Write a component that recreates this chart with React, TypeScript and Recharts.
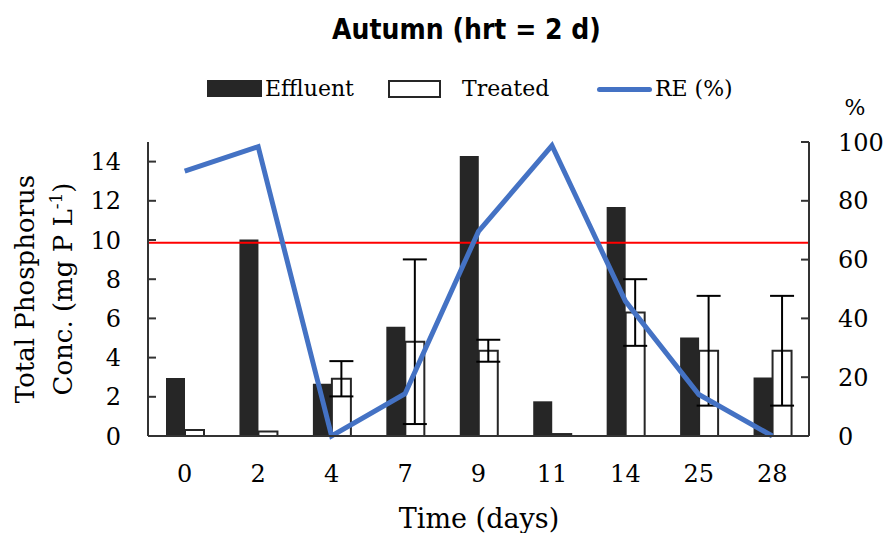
import React from 'react';
import { ComposedChart, Bar, Line, XAxis, YAxis, ReferenceLine, ErrorBar } from 'recharts';

const days = ['0', '2', '4', '7', '9', '11', '14', '25', '28'];
const effluent = [2.96, 10.03, 2.67, 5.57, 14.28, 1.77, 11.69, 5.03, 2.98];
const treated = [0.3, 0.23, 2.92, 4.81, 4.35, 0.1, 6.3, 4.35, 4.35];
const treatedErr = [0, 0, 0.9, 4.2, 0.56, 0, 1.7, 2.8, 2.8];
const removal = [90.1, 98.4, 0, 14.4, 69.6, 98.8, 45.9, 14.1, 0];
const threshold = 9.86;
const leftTicks = [0, 2, 4, 6, 8, 10, 12, 14];
const rightTicks = [0, 20, 40, 60, 80, 100];

const data = days.map((d, i) => ({
  day: d,
  effluent: effluent[i],
  treated: treated[i],
  treatedErr: treatedErr[i],
  re: removal[i],
}));

const SERIF = '"DejaVu Serif", serif';
const AXIS = '#333333';
const BAR = '#262626';
const BLUE = '#4472C4';

const YLabel = () => (
  <g transform="translate(34, 289) rotate(-90)">
    <text x={0} y={0} textAnchor="middle" fontFamily={SERIF} fontSize={26} fill="#000">
      Total Phosphorus
    </text>
    <text x={0} y={38} textAnchor="middle" fontFamily={SERIF} fontSize={26} fill="#000">
      Conc. (mg P L<tspan dy={-10} fontSize={17}>-1</tspan>
      <tspan dy={10}>)</tspan>
    </text>
  </g>
);

const XLabel = () => (
  <text x={479} y={528} textAnchor="middle" fontFamily={SERIF} fontSize={27} fill="#000">
    Time (days)
  </text>
);

const PctLabel = () => (
  <text x={855} y={115} textAnchor="middle" fontFamily={SERIF} fontSize={22} fill="#000">
    %
  </text>
);

export default function App() {
  return (
    <div style={{ position: 'absolute', left: 0, top: 0, width: 887, height: 533, background: '#fff' }}>
      <div
        style={{
          position: 'absolute',
          left: 0,
          width: 933,
          top: 10,
          textAlign: 'center',
          fontFamily: '"DejaVu Sans Condensed", "DejaVu Sans", sans-serif',
          fontWeight: 'bold',
          fontSize: 28,
          lineHeight: '40px',
          color: '#000',
        }}
      >
        Autumn (hrt = 2 d)
      </div>
      <div style={{ position: 'absolute', left: 0, top: 72, width: 887, height: 34, fontFamily: SERIF, fontSize: 22, color: '#000' }}>
        <div style={{ position: 'absolute', left: 207, top: 8, width: 55, height: 17, background: BAR }} />
        <span style={{ position: 'absolute', left: 265, top: 2, lineHeight: '30px' }}>Effluent</span>
        <div style={{ position: 'absolute', left: 388, top: 8, width: 49, height: 14, background: '#fff', border: `2px solid ${BAR}` }} />
        <span style={{ position: 'absolute', left: 462, top: 2, lineHeight: '30px' }}>Treated</span>
        <div style={{ position: 'absolute', left: 597, top: 15, width: 55, height: 5, background: BLUE, borderRadius: 3 }} />
        <span style={{ position: 'absolute', left: 655, top: 2, lineHeight: '30px' }}>RE (%)</span>
      </div>
      <div style={{ position: 'absolute', left: 0, top: 0 }}>
        <ComposedChart
          width={887}
          height={533}
          data={data}
          margin={{ top: 142, right: 0, bottom: 0, left: 0 }}
          barGap={0}
          barSize={19}
        >
          <XAxis
            dataKey="day"
            height={97}
            tickLine={false}
            axisLine={{ stroke: AXIS, strokeWidth: 2 }}
            tick={{ fill: '#000', fontSize: 24, fontFamily: SERIF }}
            tickMargin={23}
            label={<XLabel />}
          />
          <YAxis
            yAxisId="left"
            width={148}
            domain={[0, 15]}
            ticks={leftTicks}
            interval={0}
            tickSize={-8}
            tickMargin={35}
            tickLine={{ stroke: AXIS, strokeWidth: 2 }}
            axisLine={{ stroke: AXIS, strokeWidth: 2 }}
            tick={{ fill: '#000', fontSize: 24, fontFamily: SERIF }}
            label={<YLabel />}
          />
          <YAxis
            yAxisId="right"
            orientation="right"
            width={78}
            domain={[0, 100]}
            ticks={rightTicks}
            interval={0}
            tickSize={-8}
            tickMargin={37}
            tickLine={{ stroke: AXIS, strokeWidth: 2 }}
            axisLine={{ stroke: AXIS, strokeWidth: 2 }}
            tick={{ fill: '#000', fontSize: 24, fontFamily: SERIF }}
            label={<PctLabel />}
          />
          <Bar yAxisId="left" dataKey="effluent" fill={BAR} isAnimationActive={false} />
          <Bar yAxisId="left" dataKey="treated" fill="#fff" stroke={BAR} strokeWidth={2} isAnimationActive={false}>
            <ErrorBar dataKey="treatedErr" width={12} stroke="#000" strokeWidth={2} direction="y" isAnimationActive={false} />
          </Bar>
          <ReferenceLine yAxisId="left" y={threshold} stroke="#FF0000" strokeWidth={2} />
          <Line
            yAxisId="right"
            dataKey="re"
            stroke={BLUE}
            strokeWidth={5}
            dot={false}
            activeDot={false}
            isAnimationActive={false}
          />
        </ComposedChart>
      </div>
    </div>
  );
}
